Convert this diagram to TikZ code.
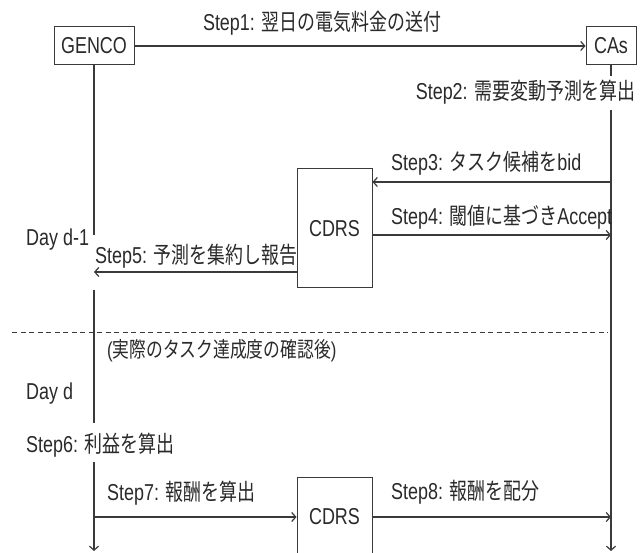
\documentclass[tikz,border=0pt]{standalone}
\usepackage{graphicx}
\usepackage{fontspec}
\setmainfont{Liberation Sans}
\newfontfamily\cjk{Noto Sans CJK JP}
\usetikzlibrary{arrows.meta}
\definecolor{txtc}{HTML}{2A2A2A}
\definecolor{linec}{HTML}{3A3A3A}
\newcommand\sqz[1]{\scalebox{0.78}[1]{#1}}
\begin{document}
\begin{tikzpicture}[x=1pt,y=-1pt,
  lbl/.style={inner sep=0pt, text=txtc, font=\fontsize{23}{26}\selectfont},
  box/.style={draw=linec, line width=1pt, inner sep=0pt, fill=white, text=txtc, font=\fontsize{23}{26}\selectfont},
  ln/.style={draw=linec, line width=1.1pt},
  arr/.style={ln, -{Straight Barb[length=4pt,width=9pt,line width=1.2pt]}},
  sep/.style={draw=linec, line width=0.9pt, dash pattern=on 5pt off 3.5pt}]
\useasboundingbox[fill=white] (0,0) rectangle (641,553);
% boxes
\node[box, minimum width=80pt, minimum height=38pt] (genco) at (94,46) {\sqz{GENCO}};
\node[box, minimum width=50pt, minimum height=38pt] (cas) at (611,46) {\sqz{CAs}};
\node[box, minimum width=75pt, minimum height=119pt] (cdrs1) at (334.5,228.5) {\sqz{CDRS}};
\node[box, minimum width=75pt, minimum height=78pt] (cdrs2) at (334.5,517) {\sqz{CDRS}};
% lifeline coordinates
\coordinate (g1) at (94,235);
\coordinate (g2) at (94,290);
\coordinate (g3) at (94,423);
\coordinate (g4) at (94,462);
\coordinate (gend) at (94,551);
\coordinate (g5) at (94,272);
\coordinate (g7) at (94,517);
\coordinate (c1) at (611,76);
\coordinate (c2) at (611,110);
\coordinate (cend) at (611,551);
\coordinate (c3) at (611,182);
\coordinate (c4) at (611,235);
\coordinate (c8) at (611,517);
\coordinate (dl) at (12,332);
\coordinate (dr) at (608,332);
% lifelines
\draw[ln] (genco.south) -- (g1);
\draw[ln] (g2) -- (g3);
\draw[arr] (g4) -- (gend);
\draw[ln] (cas.south) -- (c1);
\draw[arr] (c2) -- (cend);
% messages
\draw[arr] (genco.east) -- (cas.west);
\draw[arr] (c3) -- (cdrs1.east |- c3);
\draw[arr] (cdrs1.east |- c4) -- (c4);
\draw[arr] (cdrs1.west |- g5) -- (g5);
\draw[arr] (g7) -- (cdrs2.west);
\draw[arr] (cdrs2.east) -- (c8);
% day separator
\draw[sep] (dl) -- (dr);
% labels
\node[lbl, anchor=base] (s1) at (322,31) {\sqz{Step1: {\cjk 翌日の電気料金の送付}}};
\node[lbl, anchor=base east] (s2) at (636,100) {\sqz{Step2: {\cjk 需要変動予測を算出}}};
\node[lbl, anchor=base west] (s3) at (391,171) {\sqz{Step3: {\cjk タスク候補を}bid}};
\node[lbl, anchor=base west] (s4) at (391,225) {\sqz{Step4: {\cjk 閾値に基づき}Accept}};
\node[lbl, anchor=base west] (s5) at (95,264) {\sqz{Step5: {\cjk 予測を集約し報告}}};
\node[lbl, anchor=base west] (d1) at (26,246) {\sqz{Day d-1}};
\node[lbl, anchor=base west, font=\fontsize{21.5}{24}\selectfont] (note) at (107,358) {\sqz{({\cjk 実際のタスク達成度の確認後})}};
\node[lbl, anchor=base west] (d2) at (26,400) {\sqz{Day d}};
\node[lbl, anchor=base west] (s6) at (26,453) {\sqz{Step6: {\cjk 利益を算出}}};
\node[lbl, anchor=base west] (s7) at (107,501) {\sqz{Step7: {\cjk 報酬を算出}}};
\node[lbl, anchor=base west] (s8) at (391,500) {\sqz{Step8: {\cjk 報酬を配分}}};
\end{tikzpicture}
\end{document}
